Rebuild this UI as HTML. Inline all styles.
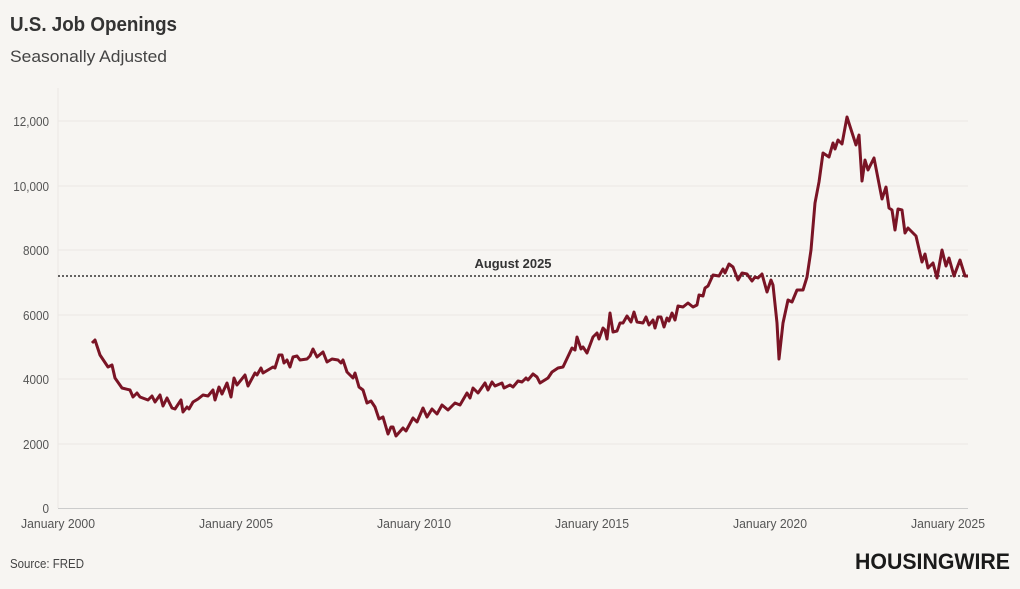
<!DOCTYPE html>
<html><head><meta charset="utf-8"><style>
body{margin:0;background:#f7f5f2;font-family:"Liberation Sans",sans-serif;}
svg{display:block}
</style></head><body>
<svg width="1020" height="589" viewBox="0 0 1020 589" xmlns="http://www.w3.org/2000/svg">
<rect width="1020" height="589" fill="#f7f5f2"/>
<text x="10" y="31" font-size="20" font-weight="bold" fill="#333" textLength="167" lengthAdjust="spacingAndGlyphs">U.S. Job Openings</text>
<text x="10" y="62" font-size="17" fill="#444" textLength="157" lengthAdjust="spacingAndGlyphs">Seasonally Adjusted</text>
<g stroke="#ebe8e4" stroke-width="1">
<line x1="58" y1="121" x2="968" y2="121"/><line x1="58" y1="186" x2="968" y2="186"/>
<line x1="58" y1="250" x2="968" y2="250"/><line x1="58" y1="315" x2="968" y2="315"/>
<line x1="58" y1="379" x2="968" y2="379"/><line x1="58" y1="444" x2="968" y2="444"/>
<line x1="58" y1="88" x2="58" y2="508"/>
</g>
<line x1="58" y1="508.5" x2="968" y2="508.5" stroke="#ccc"/>
<g font-size="13" fill="#555" text-anchor="end" transform="translate(49,0) scale(0.9,1) translate(-49,0)">
<text x="49" y="126">12,000</text><text x="49" y="191">10,000</text><text x="49" y="255">8000</text>
<text x="49" y="320">6000</text><text x="49" y="384">4000</text><text x="49" y="449">2000</text><text x="49" y="513">0</text>
</g>
<g font-size="13" fill="#555" text-anchor="middle">
<text x="58" y="528" textLength="74" lengthAdjust="spacingAndGlyphs">January 2000</text><text x="236" y="528" textLength="74" lengthAdjust="spacingAndGlyphs">January 2005</text><text x="414" y="528" textLength="74" lengthAdjust="spacingAndGlyphs">January 2010</text>
<text x="592" y="528" textLength="74" lengthAdjust="spacingAndGlyphs">January 2015</text><text x="770" y="528" textLength="74" lengthAdjust="spacingAndGlyphs">January 2020</text><text x="948" y="528" textLength="74" lengthAdjust="spacingAndGlyphs">January 2025</text>
</g>
<line x1="58" y1="276" x2="968" y2="276" stroke="#333" stroke-width="1.6" stroke-dasharray="2,2"/>
<text x="513" y="268" font-size="13" font-weight="bold" fill="#333" text-anchor="middle" textLength="77" lengthAdjust="spacingAndGlyphs">August 2025</text>
<polyline fill="none" stroke="#7a1425" stroke-width="3" stroke-linejoin="round" points="
92,343 95,340 100,355 108,367 112,365 115,378 122,388 130,390 133,397 137,393 140,397 148,400 152,396 155,402 160,395 163,406 167,398 172,408 175,409 181,400 183,412 187,407 189,409 193,402 198,399 203,395 208,396 213,390 215,400 219,387 222,394 227,383 231,397 234,378 237,385 245,375 248,386 255,373 257,375 261,368 263,373 273,367 275,368 279,355 282,355 284,363 287,360 290,367 293,357 297,356 300,360 307,359 310,356 313,349 317,357 323,352 327,362 332,359 338,360 341,363 343,360 347,372 353,378 355,373 359,387 363,390 367,403 371,401 375,407 379,419 383,417 388,434 391,427 393,427 396,436 403,428 406,431 413,418 417,422 423,408 427,417 432,409 437,414 442,405 448,410 455,403 460,405 467,393 470,398 473,388 478,393 485,383 488,390 492,382 495,386 502,383 504,388 510,385 513,387 518,381 522,382 526,378 528,380 533,374 537,377 540,383 548,378 552,372 558,368 563,367 572,348 575,350 577,337 581,349 583,347 587,353 593,337 597,333 599,339 603,328 605,330 607,339 610,313 613,332 617,331 620,323 623,323 627,316 631,322 634,312 637,322 643,323 646,317 649,325 653,320 655,328 658,317 661,317 664,327 667,318 669,321 672,313 675,320 678,306 683,307 688,303 693,307 697,305 699,295 703,296 705,288 708,286 713,275 719,276 723,269 725,273 729,264 733,267 738,280 742,273 747,274 752,281 755,277 758,278 762,274 767,292 771,280 773,285 777,323 779,359 783,323 788,300 792,302 797,290 803,290 807,277 811,250 815,203 819,182 823,153 829,157 833,143 835,149 838,140 842,144 847,117 856,145 859,135 862,181 865,160 868,170 874,158 882,199 886,187 889,208 892,210 895,230 898,209 902,210 905,233 908,228 916,236 922,262 925,254 928,268 933,263 937,278 942,250 946,266 949,258 954,276 960,260 965,276 968,276"/>
<text x="10" y="568" font-size="13" fill="#444" textLength="74" lengthAdjust="spacingAndGlyphs">Source: FRED</text>
<text x="1010" y="569" font-size="22" font-weight="bold" fill="#1a1a1a" text-anchor="end" textLength="155" lengthAdjust="spacingAndGlyphs">HOUSINGWIRE</text>
</svg>
</body></html>
